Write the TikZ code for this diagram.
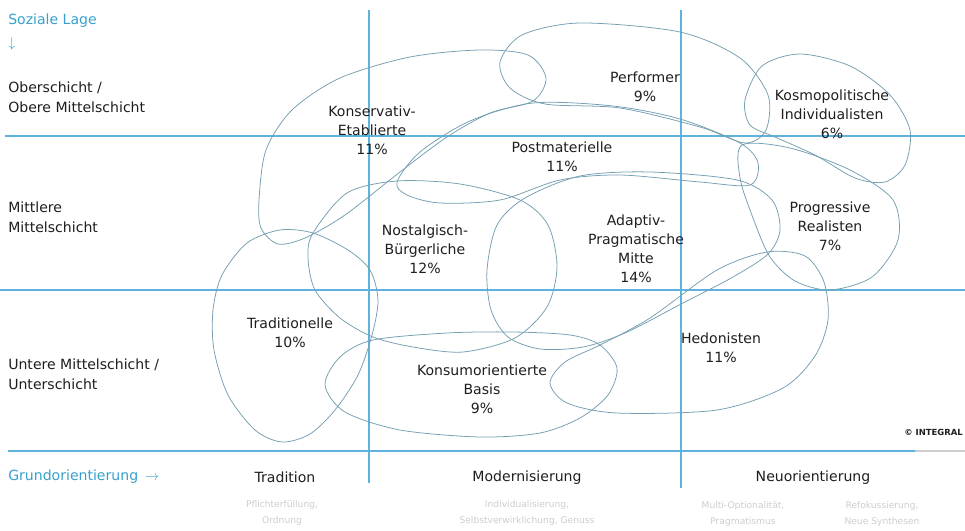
\documentclass[tikz,border=0pt]{standalone}
\usepackage{fontspec}
\setmainfont{DejaVu Sans}
\usepackage{tikz}
\definecolor{linie}{RGB}{95,178,222}
\definecolor{blase}{RGB}{118,160,178}
\definecolor{titel}{RGB}{55,160,205}
\definecolor{schrift}{RGB}{30,30,30}
\definecolor{blass}{RGB}{205,205,205}
\tikzset{
	raster/.style={linie, line width=0.9pt},
	milieu/.style={blase, line width=0.55pt},
	lab/.style={align=center, text=schrift, inner sep=0pt, font=\fontsize{10}{13.5}\selectfont},
	achse/.style={align=left, text=schrift, inner sep=0pt, anchor=west, font=\fontsize{10}{14.5}\selectfont},
	blau/.style={text=titel, inner sep=0pt, anchor=west, font=\fontsize{10}{12}\selectfont},
	unter/.style={align=center, text=blass, inner sep=0pt, font=\fontsize{6.5}{11}\selectfont}
}

\begin{document}
\begin{tikzpicture}[x=0.025cm,y=-0.025cm]
	\def\xT{369}
	\def\xN{681}
	\def\yO{136}
	\def\yU{290}
	\def\yG{451}
\useasboundingbox (0,0) rectangle (965,531);

%Raster
\draw[raster] (5,\yO) -- (965,\yO);
\draw[raster] (0,\yU) -- (965,\yU);
\draw[raster] (8,\yG) -- (915,\yG);
\draw[blass, line width=0.9pt] (915,\yG) -- (965,\yG);
\draw[raster] (\xT,10) -- (\xT,483);
\draw[raster] (\xN,10) -- (\xN,488);

%Milieus
%Konservativ-Etablierte
\draw[milieu] plot[smooth cycle] coordinates {(259,200) (266,150) (292,110) (340,78) (410,57) (480,50) (528,55) (546,78) (533,101) (490,113) (447,137) (400,172) (345,215) (305,238) (278,244) (261,228)};
%Performer
\draw[milieu] plot[smooth cycle] coordinates {(500,62) (522,35) (580,23) (680,32) (740,58) (768,95) (766,130) (745,143) (700,127) (620,108) (545,104) (510,88)};
%Kosmopolitische Individualisten
\draw[milieu] plot[smooth cycle] coordinates {(745,100) (762,66) (800,54) (850,66) (890,95) (910,130) (905,165) (885,182) (855,178) (815,155) (775,137) (750,125)};
%Progressive Realisten
\draw[milieu] plot[smooth cycle] coordinates {(742,145) (790,148) (850,170) (893,200) (898,240) (872,277) (830,290) (795,281) (770,257) (753,218) (740,178)};
%Postmaterielle
\draw[milieu] plot[smooth cycle] coordinates {(397,182) (420,152) (470,121) (533,103) (613,106) (680,119) (740,143) (758,163) (750,185) (700,182) (620,175) (560,180) (500,200) (440,203) (407,195)};
%Nostalgisch-Buergerliche
\draw[milieu] plot[smooth cycle] coordinates {(313,233) (347,193) (397,181) (460,184) (520,200) (548,225) (557,267) (547,307) (515,338) (463,352) (413,347) (373,337) (340,318) (315,290) (308,258)};
%Adaptiv-Pragmatische Mitte
\draw[milieu] plot[smooth cycle] coordinates {(487,270) (497,225) (525,198) (580,176) (650,172) (737,180) (772,200) (780,230) (768,254) (733,277) (683,303) (625,333) (583,347) (540,349) (508,337) (491,310)};
%Traditionelle
\draw[milieu] plot[smooth cycle] coordinates {(313,233) (280,230) (247,243) (222,275) (213,310) (214,350) (228,395) (255,430) (282,442) (310,434) (335,410) (358,375) (372,335) (378,300) (370,270) (348,250)};
%Konsumorientierte Basis
\draw[milieu] plot[smooth cycle] coordinates {(325,385) (340,357) (373,340) (447,333) (513,332) (570,335) (600,345) (617,368) (608,395) (580,418) (540,433) (480,437) (400,430) (345,412)};
%Hedonisten
\draw[milieu] plot[smooth cycle] coordinates {(550,383) (565,362) (600,345) (650,318) (717,270) (767,252) (805,256) (824,282) (828,320) (815,356) (783,388) (717,410) (617,413) (567,403)};

%Beschriftung der Milieus
\node[lab] (ke) at (372,130) {Konservativ-\\Etablierte\\11\%};
\node[lab] (pf) at (645,87) {Performer\\9\%};
\node[lab] (ki) at (832,114) {Kosmopolitische\\Individualisten\\6\%};
\node[lab] (pm) at (562,157) {Postmaterielle\\11\%};
\node[lab] (nb) at (425,249) {Nostalgisch-\\Bürgerliche\\12\%};
\node[lab] (apm) at (636,249) {Adaptiv-\\Pragmatische\\Mitte\\14\%};
\node[lab] (pr) at (830,226) {Progressive\\Realisten\\7\%};
\node[lab] (tr) at (290,333) {Traditionelle\\10\%};
\node[lab] (kb) at (482,389) {Konsumorientierte\\Basis\\9\%};
\node[lab] (he) at (721,348) {Hedonisten\\11\%};

%Soziale Lage
\node[blau] (lage) at (8,21) {Soziale Lage};
\node[blau] (pfeil) at (8,44) {$\downarrow$};
\node[achse] (ober) at (8,97) {Oberschicht /\\Obere Mittelschicht};
\node[achse] (mitte) at (8,217) {Mittlere\\Mittelschicht};
\node[achse] (unten) at (8,374) {Untere Mittelschicht /\\Unterschicht};

%Grundorientierung
\node[blau] (grund) at (8,477) {Grundorientierung\enspace$\rightarrow$};
\node[lab] (trad) at (285,477) {Tradition};
\node[lab] (mod) at (527,478) {Modernisierung};
\node[lab] (neu) at (813,478) {Neuorientierung};
\node[unter] (tradsub) at (282,513) {Pflichterfüllung,\\Ordnung};
\node[unter] (modsub) at (527,513) {Individualisierung,\\Selbstverwirklichung, Genuss};
\node[unter] (neusubA) at (743,514) {Multi-Optionalität,\\Pragmatismus};
\node[unter] (neusubB) at (882,514) {Refokussierung,\\Neue Synthesen};

\node[anchor=east, inner sep=0pt, text=schrift, font=\fontsize{6}{8}\selectfont\bfseries] (copy) at (963,432) {© INTEGRAL};
\end{tikzpicture}
\end{document}
